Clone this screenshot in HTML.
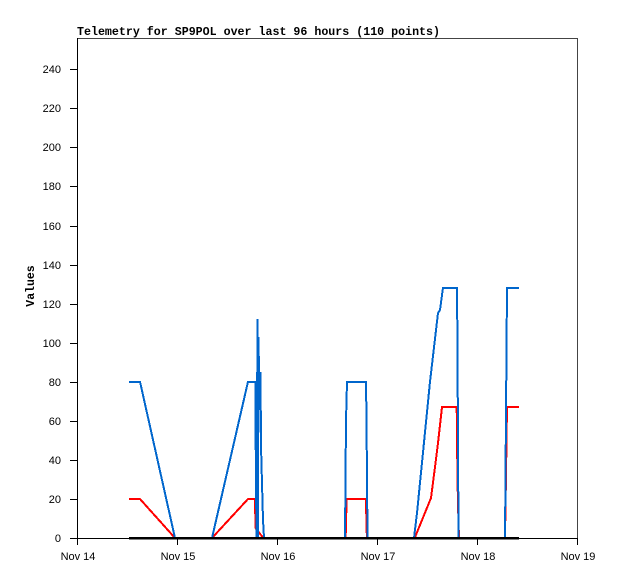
<!DOCTYPE html>
<html><head><meta charset="utf-8">
<style>
html,body{margin:0;padding:0;background:#fff;}
svg{display:block;}
</style></head>
<body>
<svg width="618" height="579" viewBox="0 0 618 579" xmlns="http://www.w3.org/2000/svg">
<rect width="618" height="579" fill="#fff"/>
<text x="77" y="35" font-family="Liberation Mono, monospace" font-weight="bold" font-size="11.5" textLength="363" lengthAdjust="spacingAndGlyphs" fill="#000">Telemetry for SP9POL over last 96 hours (110 points)</text>
<!-- frame -->
<path d="M77.5,38.5 H577.5 V538.5" fill="none" stroke="#444" stroke-width="1"/>
<path d="M77.5,38 V538.5 H578" fill="none" stroke="#000" stroke-width="1"/>
<!-- ticks -->
<g stroke="#000" stroke-width="1">
<path d="M70,538.5H77 M70,499.5H77 M70,460.5H77 M70,421.5H77 M70,382.5H77 M70,343.5H77 M70,304.5H77 M70,265.5H77 M70,226.5H77 M70,186.5H77 M70,147.5H77 M70,108.5H77 M70,69.5H77"/>
<path d="M77.5,538V545 M177.5,538V545 M277.5,538V545 M377.5,538V545 M477.5,538V545 M577.5,538V545"/>
</g>
<g font-family="Liberation Sans, sans-serif" font-size="11" fill="#000" text-anchor="end">
<text x="61" y="542">0</text>
<text x="61" y="503">20</text>
<text x="61" y="464">40</text>
<text x="61" y="425">60</text>
<text x="61" y="386">80</text>
<text x="61" y="347">100</text>
<text x="61" y="308">120</text>
<text x="61" y="269">140</text>
<text x="61" y="230">160</text>
<text x="61" y="190">180</text>
<text x="61" y="151">200</text>
<text x="61" y="112">220</text>
<text x="61" y="73">240</text>
</g>
<g font-family="Liberation Sans, sans-serif" font-size="11" fill="#000" text-anchor="middle">
<text x="78" y="560">Nov 14</text>
<text x="178" y="560">Nov 15</text>
<text x="278" y="560">Nov 16</text>
<text x="378" y="560">Nov 17</text>
<text x="478" y="560">Nov 18</text>
<text x="578" y="560">Nov 19</text>
</g>
<text transform="translate(34,286) rotate(-90)" font-family="Liberation Mono, monospace" font-weight="bold" font-size="11.5" text-anchor="middle" fill="#000">Values</text>
<!-- red series -->
<path shape-rendering="crispEdges" d="M129,499 L140,499 L175,538 L212,538 L248,499 L255,499 L255.5,528 L263.3,538 L345.5,538 L346,528 L346.5,499 L366,499 L366.5,528 L367,538 L414.7,538 L431,498 L435,467 L438,443 L442,407 L456.7,407 L457,440 L457.5,477 L458,505 L459,538 L505,538 L505.5,505 L506,477 L506.5,440 L507,407 L519,407" fill="none" stroke="#ff0000" stroke-width="2" stroke-linejoin="miter"/>
<!-- blue series -->
<path shape-rendering="crispEdges" d="M129,381.75 L140,381.75 L175,538 L212,538 L248,381.75 L255.5,381.75 L255.5,420 L256.5,538 L257.5,319 L258,538 L258.5,337 L259.5,410 L260.5,372 L261,446 L262,483 L263,520 L264,538 L345,538 L346,420 L347,382 L366,382 L366.5,420 L367.5,538 L414,538 L417,513 L430,381.75 L438,313 L440,310 L442,295 L443,288 L457,288 L457.5,350 L458.5,538 L505,538 L505.5,477 L506.5,350 L507,288 L519,288" fill="none" stroke="#0066cc" stroke-width="2" stroke-linejoin="miter"/>
<!-- black zero series -->
<path d="M129,538.2 L519,538.2" fill="none" stroke="#000" stroke-width="2.5"/>
</svg>
</body></html>
